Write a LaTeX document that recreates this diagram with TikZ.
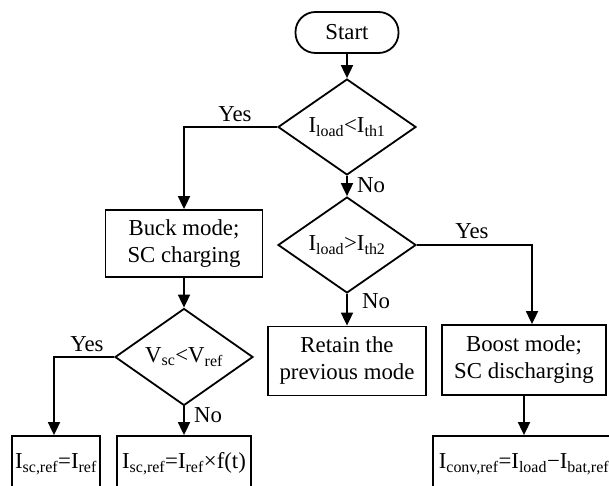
\documentclass[tikz,border=0pt]{standalone}
\usepackage{fontspec}
\setmainfont{Liberation Serif}
\usetikzlibrary{shapes.geometric,arrows.meta}
\begin{document}
\begin{tikzpicture}[x=1pt,y=-1pt,
  every node/.style={font=\fontsize{22.8}{27}\selectfont},
  flow/.style={line width=1.8pt,-{Triangle[length=13pt,width=12pt]}},
  box/.style={draw,line width=1.8pt,rectangle,inner sep=0pt,align=center},
  dec/.style={draw,line width=1.8pt,diamond,inner sep=0pt,minimum width=138pt,minimum height=78pt},
  term/.style={draw,line width=1.8pt,rectangle,rounded corners=20pt,minimum width=103pt,minimum height=41pt,inner sep=0pt},
  lbl/.style={inner sep=0pt}]
\useasboundingbox (0,0) rectangle (609,486);
\clip (0,0) rectangle (609,486);
\node[term] (start) at (347,32.5) {Start};
\node[dec] (d1) at (347,127) {I\textsubscript{load}<I\textsubscript{th1}};
\node[dec] (d2) at (347,245) {I\textsubscript{load}>I\textsubscript{th2}};
\node[box,minimum width=157pt,minimum height=67pt] (buck) at (184,243.5) {Buck mode;\\SC charging};
\node[box,minimum width=158pt,minimum height=69pt] (retain) at (347,361) {Retain the\\previous mode};
\node[box,minimum width=164pt,minimum height=70pt] (boost) at (524,360) {Boost mode;\\SC discharging};
\node[dec] (d3) at (184,357) {V\textsubscript{sc}<V\textsubscript{ref}};
\node[box,minimum width=88pt,minimum height=56pt] (r1) at (56,464) {I\textsubscript{sc,ref}=I\textsubscript{ref}};
\node[box,minimum width=134pt,minimum height=56pt] (r2) at (184,464) {I\textsubscript{sc,ref}=I\textsubscript{ref}×f(t)};
\node[box,minimum width=182pt,minimum height=56pt] (r3) at (524,464) {I\textsubscript{conv,ref}=I\textsubscript{load}−I\textsubscript{bat,ref}};
\draw[flow] (start) -- (d1);
\draw[flow] (d1.west) -| (buck.north);
\draw[flow] (d1) -- (d2);
\draw[flow] (d2.east) -| ([xshift=8pt]boost.north);
\draw[flow] (d2) -- (retain);
\draw[flow] (buck) -- (d3);
\draw[flow] (d3.west) -| ([xshift=-2pt]r1.north);
\draw[flow] (d3) -- (r2);
\draw[flow] (boost) -- (r3);
\node[lbl] (y1) at (235,114) {Yes};
\node[lbl] (n1) at (371,185) {No};
\node[lbl] (y2) at (472,231) {Yes};
\node[lbl] (n2) at (376,301) {No};
\node[lbl] (y3) at (87,344) {Yes};
\node[lbl] (n3) at (208,415) {No};
\end{tikzpicture}
\end{document}
